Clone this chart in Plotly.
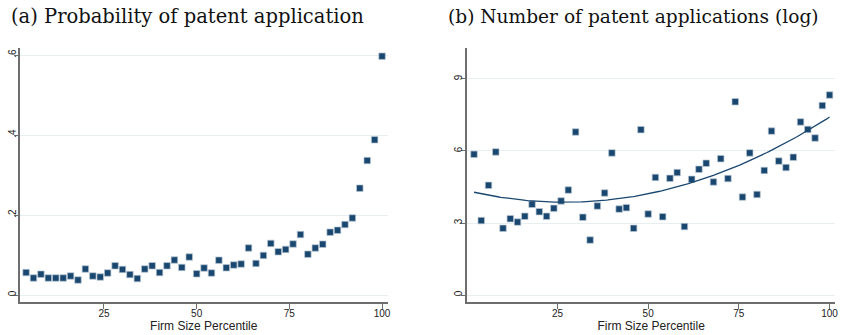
import numpy as np
import plotly.graph_objects as go

# ---- data ----
pct_a = list(range(4, 101, 2))
prob_a = [0.056, 0.0425, 0.052, 0.0425, 0.0425, 0.0425, 0.0475, 0.0375, 0.065, 0.0475,
          0.045, 0.055, 0.073, 0.064, 0.051, 0.041, 0.065, 0.073, 0.056, 0.073,
          0.0875, 0.069, 0.095, 0.053, 0.0675, 0.055, 0.087, 0.068, 0.075, 0.0775,
          0.1175, 0.079, 0.099, 0.129, 0.108, 0.114, 0.1275, 0.151, 0.102, 0.1175,
          0.127, 0.157, 0.162, 0.176, 0.1925, 0.267, 0.336, 0.388, 0.597]

pct_b = list(range(2, 101, 2))
lognum_b = [5.86, 3.10, 4.57, 5.96, 2.78, 3.18, 3.04, 3.28, 3.78, 3.47,
            3.28, 3.61, 3.92, 4.375, 6.79, 3.24, 2.29, 3.71, 4.25, 5.92,
            3.58, 3.64, 2.78, 6.89, 3.375, 4.90, 3.26, 4.86, 5.10, 2.85,
            4.82, 5.24, 5.49, 4.71, 5.68, 4.85, 8.05, 4.08, 5.92, 4.19,
            5.19, 6.83, 5.58, 5.31, 5.74, 7.21, 6.90, 6.54, 7.89, 8.33]

x_ticks = [25, 50, 75, 100]
y_ticks_a = [0, 0.2, 0.4, 0.6]
y_ticklabels_a = ["0", ".2", ".4", ".6"]
y_ticks_b = [0, 3, 6, 9]
y_ticklabels_b = ["0", "3", "6", "9"]

title_a = "(a) Probability of patent application"
title_b = "(b) Number of patent applications (log)"
xlabel = "Firm Size Percentile"

# quadratic fit (Stata qfit equivalent)
coef = np.polyfit(pct_b, lognum_b, 2)
fit_x = np.linspace(min(pct_b), max(pct_b), 200)
fit_y = np.polyval(coef, fit_x)

NAVY = "#1a476f"
GRID = "#e8eff1"
AXIS = "#6e6e6e"

W, H = 842, 335
def px(x):
    return x / W
def py(y):
    return 1 - y / H

fig = go.Figure()
marker = dict(symbol="square", size=6.5, color=NAVY,
              line=dict(width=0.7, color="#b9c9d6"))
fig.add_trace(go.Scatter(x=pct_a, y=prob_a, mode="markers", marker=marker,
                         xaxis="x", yaxis="y", showlegend=False))
fig.add_trace(go.Scatter(x=pct_b, y=lognum_b, mode="markers", marker=marker,
                         xaxis="x2", yaxis="y2", showlegend=False))
fig.add_trace(go.Scatter(x=fit_x, y=fit_y, mode="lines",
                         line=dict(color=NAVY, width=1.3),
                         xaxis="x2", yaxis="y2", showlegend=False))

tickfont = dict(family="Liberation Sans, Arial, sans-serif", size=10, color="#222")
common_x = dict(tickmode="array", tickvals=x_ticks, ticks="outside", ticklen=5,
                tickcolor=AXIS, tickwidth=1, showline=True, linecolor=AXIS,
                linewidth=1.8, showgrid=False, zeroline=False, tickfont=tickfont,
                ticklabelstandoff=-4,
                title=dict(text=xlabel, standoff=4,
                           font=dict(family="Liberation Sans, Arial, sans-serif",
                                     size=12, color="#222")))
common_y = dict(tickmode="array", ticks="outside", ticklen=4, tickcolor=AXIS,
                tickwidth=1, showline=True, linecolor=AXIS, linewidth=1.8,
                showgrid=True, gridcolor=GRID, gridwidth=1, zeroline=False,
                tickangle=-90, tickfont=tickfont)

y_dom = [py(302), py(48)]
fig.update_layout(
    width=W, height=H,
    margin=dict(l=0, r=0, t=0, b=0),
    paper_bgcolor="white", plot_bgcolor="white",
    xaxis=dict(domain=[px(20), px(389)], range=[2.34, 101.5], anchor="y", **common_x),
    yaxis=dict(domain=y_dom, range=[-0.0175, 0.6175], anchor="x",
               tickvals=y_ticks_a, ticktext=y_ticklabels_a,
               ticklabelstandoff=-6, **common_y),
    xaxis2=dict(domain=[px(469), px(838)], range=[0.16, 101.5], anchor="y2", **common_x),
    yaxis2=dict(domain=y_dom, range=[-0.29, 10.29], anchor="x2",
                tickvals=y_ticks_b, ticktext=y_ticklabels_b,
                ticklabelstandoff=-5, **common_y),
    annotations=[
        dict(text=title_a, x=px(188), y=py(16), xref="paper", yref="paper",
             xanchor="center", yanchor="middle", showarrow=False,
             font=dict(family="DejaVu Serif, serif", size=19.5, color="#111")),
        dict(text=title_b, x=px(636), y=py(16), xref="paper", yref="paper",
             xanchor="center", yanchor="middle", showarrow=False,
             font=dict(family="DejaVu Serif, serif", size=18.6, color="#111")),
    ],
)

fig.write_html("out.html", config={"displayModeBar": False},
               post_script="document.body.style.margin='0';document.body.style.overflow='hidden';")
